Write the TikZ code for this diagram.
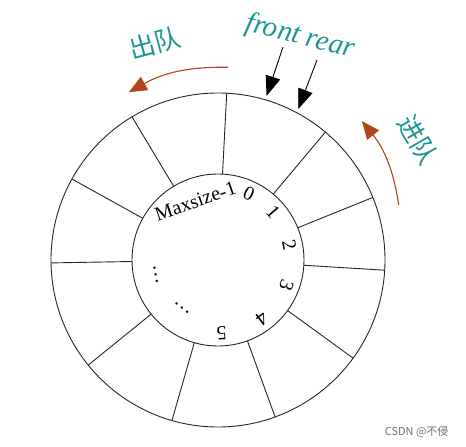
\documentclass[tikz,border=0pt]{standalone}
\usepackage{fontspec}
\setmainfont{Liberation Serif}
\newfontfamily\cjk{Noto Sans CJK SC}
\usetikzlibrary{arrows.meta}
\definecolor{qteal}{RGB}{30,150,150}
\definecolor{qbrown}{RGB}{175,70,30}
\tikzset{
  ring/.style={line width=0.9pt, black!85},
  idx/.style={font=\fontsize{20}{20}\selectfont, inner sep=0pt},
  ptr/.style={-{Triangle[length=20pt,width=15pt]}, line width=0.9pt},
  flow/.style={-{Triangle[length=18pt,width=15pt]}, line width=1.1pt, qbrown, bend right=15},
  cn/.style={font=\fontsize{26}{26}\cjk, text=qteal},
}

\begin{document}
\begin{tikzpicture}[x=1pt, y=1pt]
  \useasboundingbox (-218,-187) rectangle (248,260);
  % Ring
  \draw[ring] (0,0) circle (167);
  \draw[ring] (0,0) circle (86);
  \foreach \a in {22,50,87,121,151,181,219,254,290,324,356.5}{
    \draw[ring] (\a:86) -- (\a:167);
  };

  % Indices
  \foreach \a/\r/\n in {65/-25/0,41/-49/1,12/-78/2,-20/-110/3,-53/-143/4,-87/-177/5}{
    \node[idx, rotate=\r] (i\n) at (\a:73) {\n};
  };
  \node[idx, rotate=19]  (imax)  at (111:63) {Maxsize-1};
  \node[idx, rotate=100] (dots1) at (193:64) {\ldots};
  \node[idx, rotate=142] (dots2) at (233:60) {\ldots};

  % Pointers
  \coordinate (fs) at (65,213);
  \coordinate (ft) at (73.5:171);
  \coordinate (rs) at (99,200);
  \coordinate (rt) at (62:171);
  \draw[ptr] (fs) -- (ft);
  \draw[ptr] (rs) -- (rt);
  \node[font=\fontsize{29}{29}\selectfont\itshape, text=qteal, rotate=-14] (fr) at (82,223) {front rear};

  % Queue direction
  \coordinate (outs) at (87:193);
  \coordinate (oute) at (118:190);
  \draw[flow] (outs) to (oute);
  \coordinate (ins) at (17:189);
  \coordinate (ine) at (44:200);
  \draw[flow] (ins) to (ine);
  \node[cn, rotate=15]  (deq) at (-63,217) {出队};
  \node[cn, rotate=-60] (enq) at (200,120) {进队};

  \node[font=\fontsize{11}{11}\cjk, text=black!55, anchor=east] (mark) at (234,-172) {CSDN @不侵};
\end{tikzpicture}
\end{document}
